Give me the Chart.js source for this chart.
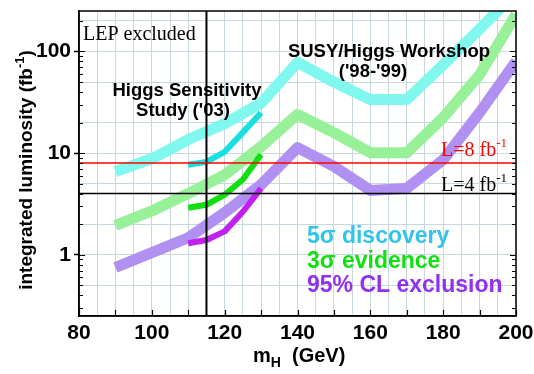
<!DOCTYPE html>
<html>
<head>
<meta charset="utf-8">
<script src="https://cdn.jsdelivr.net/npm/chart.js@4"></script>
<style>
  html, body { margin: 0; padding: 0; background: #fff; }
  #wrap { width: 534px; height: 374px; }
</style>
</head>
<body>
<div id="wrap"><canvas id="myChart" width="534" height="374"></canvas></div>
<script>
const ctx = document.getElementById('myChart').getContext('2d');

// Higgs mass points (GeV)
const mass = [90, 100, 110, 120, 130, 140, 150, 160, 170, 180, 190, 200];
// SUSY/Higgs Workshop ('98-'99) bands
const discovery5 = [6.6, 8.8, 13.6, 19.5, 31, 78, 50, 33.6, 33.6, 74, 166, 380];
const evidence3 = [1.95, 2.7, 4.0, 6.1, 11.6, 24, 15.9, 10.1, 10.1, 22.4, 59, 230];
const exclusion95 = [0.75, 1.05, 1.47, 2.6, 4.9, 11.3, 7.4, 4.3, 4.5, 8.6, 25, 80];

// Higgs Sensitivity Study ('03)
const studyMass = [110, 115, 120, 125, 130];
const studyDisc = [7.7, 8.2, 10.3, 16, 25];
const studyEvid = [2.9, 3.1, 3.9, 5.5, 9.7];
const studyExcl = [1.3, 1.4, 1.7, 2.65, 4.5];

// reference lines
const lumiLines = [8, 4];
const lepLimit = 115;

const xTickLabels = [80, 100, 120, 140, 160, 180, 200];
const yTickLabels = [1, 10, 100];

const pts = (xs, ys) => xs.map((x, i) => ({ x: x, y: ys[i] }));

// minor log ticks 0.3 ... 200
let yMinor = [];
[0.1, 1, 10, 100].forEach(d => {
	for (let k = 1; k <= 9; k++) {
		const v = +(k * d).toPrecision(3);
		if (v >= 0.25 && v <= 250) yMinor.push(v);
	}
});

const mant = v => Math.round(v / Math.pow(10, Math.floor(Math.log10(v) + 1e-9)));

const band = (data, color, width, order) => ({
	data, borderColor: color, borderWidth: width, pointRadius: 0,
	borderCapStyle: 'butt', borderJoinStyle: 'round', tension: 0, order
});

const data = {
	datasets: [
		band(pts(mass, discovery5), '#80f8f0', 11, 3),
		band(pts(mass, evidence3), '#98f098', 11, 3),
		band(pts(mass, exclusion95), '#b090f0', 11, 3),
		band(pts(studyMass, studyDisc), '#18e0e0', 6, 2),
		band(pts(studyMass, studyEvid), '#10e010', 6, 2),
		band(pts(studyMass, studyExcl), '#c020f0', 6, 2),
		band([{x: 80, y: lumiLines[0]}, {x: 200, y: lumiLines[0]}], '#ff0000', 1.5, 1),
		band([{x: 80, y: lumiLines[1]}, {x: 200, y: lumiLines[1]}], '#000000', 1.5, 1),
		band([{x: lepLimit, y: 0.25}, {x: lepLimit, y: 250}], '#000000', 2, 1)
	]
};

// text annotations, titles, inner ticks and frame
const textPlugin = {
	id: 'texts',
	afterDraw(chart) {
		const c = chart.ctx, a = chart.chartArea;
		const sx = chart.scales.x, sy = chart.scales.y;
		const Y = v => sy.getPixelForValue(v);
		c.save();
		c.strokeStyle = '#000';
		c.lineWidth = 1.5;
		c.strokeRect(a.left, a.top, a.right - a.left, a.bottom - a.top);

		// inner ticks
		c.lineWidth = 1.2;
		c.beginPath();
		sy.ticks.forEach(t => {
			const py = Math.round(Y(t.value)) + 0.5;
			const len = mant(t.value) === 1 ? 6 : 4;
			c.moveTo(a.left, py); c.lineTo(a.left + len, py);
			c.moveTo(a.right, py); c.lineTo(a.right - len, py);
		});
		sx.ticks.forEach(t => {
			if (t.value % 10 !== 0) return;
			const px = Math.round(sx.getPixelForValue(t.value)) + 0.5;
			c.moveTo(px, a.bottom); c.lineTo(px, a.bottom - 6);
		});
		c.stroke();

		const sans = s => 'bold ' + s + 'px "Liberation Sans", Arial, sans-serif';
		const serif = s => s + 'px "Liberation Serif", "Times New Roman", serif';
		c.textBaseline = 'alphabetic';

		c.fillStyle = '#000';
		c.font = serif(20);
		c.textAlign = 'left';
		c.fillText('LEP excluded', 83, 40);

		c.font = sans(18.5);
		c.textAlign = 'center';
		c.fillText('Higgs Sensitivity', 187, 96);
		c.fillText("Study ('03)", 183, 116);
		c.fillText('SUSY/Higgs Workshop', 389, 57);
		c.fillText("('98-'99)", 373, 77);

		// L= labels with superscript
		const lumiLabel = (val, color, x, y) => {
			c.fillStyle = color;
			c.textAlign = 'left';
			c.font = serif(20);
			const t = 'L=' + val + ' fb';
			c.fillText(t, x, y);
			const w = c.measureText(t).width;
			c.font = serif(13);
			c.fillText('-1', x + w, y - 9);
		};
		lumiLabel(lumiLines[0], '#ff0000', 441, Y(lumiLines[0]) - 7);
		lumiLabel(lumiLines[1], '#000000', 441, Y(lumiLines[1]) - 3);

		c.textAlign = 'left';
		c.font = sans(23);
		c.fillStyle = '#30c4e8';
		c.fillText('5\u03c3 discovery', 307, 243);
		c.fillStyle = '#10e010';
		c.fillText('3\u03c3 evidence', 307, 268);
		c.fillStyle = '#9030f0';
		c.fillText('95% CL exclusion', 307, 292);

		// x title
		c.fillStyle = '#000';
		c.font = sans(20);
		let x0 = 253;
		c.fillText('m', x0, 362);
		x0 += c.measureText('m').width;
		c.font = sans(14);
		c.fillText('H', x0, 367);
		x0 += c.measureText('H').width;
		c.font = sans(20);
		c.fillText('  (GeV)', x0, 362);

		// y title
		c.translate(32, 170);
		c.rotate(-Math.PI / 2);
		c.font = sans(19);
		const t1 = 'integrated luminosity (fb';
		const w1 = c.measureText(t1).width;
		c.font = sans(13);
		const w2 = c.measureText('-1').width;
		c.font = sans(19);
		const w3 = c.measureText(')').width;
		let xs = -(w1 + w2 + w3) / 2;
		c.fillText(t1, xs, 0);
		c.font = sans(13);
		c.fillText('-1', xs + w1, -8);
		c.font = sans(19);
		c.fillText(')', xs + w1 + w2, 0);
		c.restore();
	}
};

const config = {
	type: 'line',
	data: data,
	plugins: [textPlugin],
	options: {
		responsive: false,
		animation: false,
		layout: { padding: { left: 0, right: 18, top: 11, bottom: 0 } },
		plugins: { legend: { display: false }, tooltip: { enabled: false } },
		scales: {
			x: {
				type: 'linear',
				min: 80,
				max: 200,
				afterFit: s => { s.height = 58; s.paddingLeft = 0; s.paddingRight = 0; },
				grid: { color: '#c8d6de', lineWidth: 1, drawTicks: false },
				border: { color: '#000', width: 1.5 },
				ticks: {
					stepSize: 5,
					autoSkip: false,
					maxRotation: 0,
					padding: 5,
					color: '#000',
					font: { family: '"Liberation Sans", Arial, sans-serif', weight: 'bold', size: 21 },
					callback: v => xTickLabels.includes(v) ? String(v) : ''
				}
			},
			y: {
				type: 'logarithmic',
				min: 0.25,
				max: 250,
				afterFit: s => { s.width = 79; s.paddingTop = 0; s.paddingBottom = 0; },
				afterBuildTicks: s => { s.ticks = yMinor.map(v => ({ value: v })); },
				grid: {
					color: c => [1, 2, 5].includes(mant(c.tick.value)) ? '#c8d6de' : 'rgba(0,0,0,0)',
					tickColor: c => mant(c.tick.value) === 1 ? '#000' : 'rgba(0,0,0,0)',
					tickLength: 5,
					tickWidth: 1.5
				},
				border: { color: '#000', width: 1.5 },
				ticks: {
					autoSkip: false,
					padding: 3,
					color: '#000',
					font: { family: '"Liberation Sans", Arial, sans-serif', weight: 'bold', size: 21 },
					callback: v => yTickLabels.includes(v) ? String(v) : ''
				}
			}
		}
	}
};

const myChart = new Chart(ctx, config);
</script>
</body>
</html>
